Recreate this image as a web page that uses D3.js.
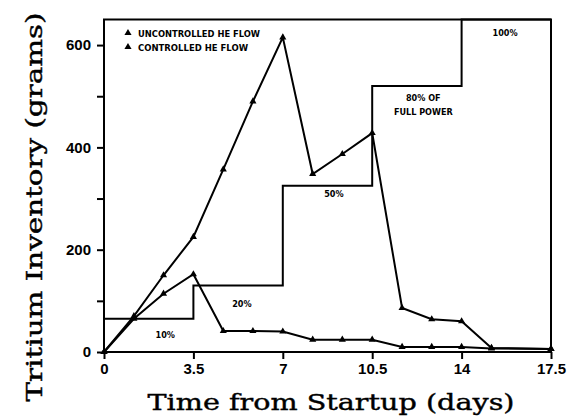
<!DOCTYPE html>
<html>
<head>
<meta charset="utf-8">
<script src="https://cdn.jsdelivr.net/npm/d3@7"></script>
<style>
  body { margin: 0; background: #fff; }
</style>
</head>
<body>
<div id="chart"></div>
<script>
var svgWidth = 570;
var svgHeight = 418;

// time from startup (days)
var days = [0, 1.17, 2.33, 3.5, 4.67, 5.83, 7, 8.17, 9.33, 10.5, 11.67, 12.83, 14, 15.17, 17.5];
// tritium inventory (grams)
var uncontrolled = [0, 70, 150, 225, 357, 490, 615, 348, 387, 428, 86, 64, 60, 8, 6];
var controlled = [0, 65, 114, 152, 41, 41, 40, 24, 24, 24, 10, 10, 10, 7, 6];

// power ramp steps
var stepStarts = [0, 3.5, 7, 10.5, 14];
var stepEnds = [3.5, 7, 10.5, 14, 17.5];
var stepLevels = [65, 130, 325, 520, 650];
var stepLabels = [['10%'], ['20%'], ['50%'], ['80% OF', 'FULL POWER'], ['100%']];

var xTicks = [0, 3.5, 7, 10.5, 14, 17.5];
var yTicks = [0, 100, 200, 300, 400, 500, 600];
var yLabelTicks = [0, 200, 400, 600];

var seriesNames = ['UNCONTROLLED HE FLOW', 'CONTROLLED HE FLOW'];

var svg = d3.select('#chart').append('svg')
    .attr('width', svgWidth)
    .attr('height', svgHeight)
    .style('font-family', 'Liberation Sans, Arial, sans-serif');

var xScale = d3.scaleLinear().domain([0, 17.5]).range([104, 551]);
var yScale = d3.scaleLinear().domain([0, 650]).range([352, 19.5]);

// axes
var xAxis = d3.axisBottom(xScale)
    .tickValues(xTicks)
    .tickSize(7)
    .tickPadding(4)
    .tickFormat(d => d);
var yAxis = d3.axisLeft(yScale)
    .tickValues(yTicks)
    .tickSize(7)
    .tickPadding(6)
    .tickFormat(d => yLabelTicks.indexOf(d) >= 0 ? d : '');

var gx = svg.append('g')
    .attr('transform', `translate(0, ${yScale(0)})`)
    .call(xAxis);
var gy = svg.append('g')
    .attr('transform', `translate(${xScale(0)}, 0)`)
    .call(yAxis);

[gx, gy].forEach(function(g) {
    g.select('.domain').remove();
    g.selectAll('.tick line').attr('stroke', '#000').attr('stroke-width', 2);
    g.selectAll('.tick text')
        .attr('fill', '#000')
        .attr('font-size', 15)
        .attr('font-weight', 'bold');
});

// frame
svg.append('rect')
    .attr('x', xScale(0))
    .attr('y', yScale(650))
    .attr('width', xScale(17.5) - xScale(0))
    .attr('height', yScale(0) - yScale(650))
    .attr('fill', 'none')
    .attr('stroke', '#000')
    .attr('stroke-width', 2);

// power step line
var stepPts = [[0, 0]];
stepLevels.forEach(function(v, i) {
    stepPts.push([stepStarts[i], v]);
    stepPts.push([stepEnds[i], v]);
});
svg.append('path')
    .attr('d', d3.line().x(d => xScale(d[0])).y(d => yScale(d[1]))(stepPts))
    .attr('fill', 'none')
    .attr('stroke', '#000')
    .attr('stroke-width', 2);

// step labels (placed in data units)
var labelPos = [[2.4, 34], [5.4, 95], [9.0, 310], [12.5, 497, 470], [15.7, 625]];
stepLabels.forEach(function(lines, i) {
    lines.forEach(function(t, j) {
        svg.append('text')
            .attr('x', xScale(labelPos[i][0]))
            .attr('y', yScale(j === 0 ? labelPos[i][1] : labelPos[i][2]) + 3.5)
            .attr('text-anchor', 'middle')
            .attr('font-family', 'DejaVu Sans Condensed, sans-serif')
            .attr('font-weight', 'bold')
            .attr('font-size', 9)
            .text(t);
    });
});

// series
var line = d3.line()
    .x((d, i) => xScale(days[i]))
    .y(d => yScale(d));
var tri = d3.symbol().type(d3.symbolTriangle).size(22);

[uncontrolled, controlled].forEach(function(series) {
    svg.append('path')
        .attr('d', line(series))
        .attr('fill', 'none')
        .attr('stroke', '#000')
        .attr('stroke-width', 2);
    svg.append('g')
        .selectAll('path')
        .data(series)
        .enter()
        .append('path')
        .attr('transform', (d, i) => `translate(${xScale(days[i])}, ${yScale(d)})`)
        .attr('d', tri)
        .attr('fill', '#000');
});

// legend
var legend = svg.append('g');
seriesNames.forEach(function(name, i) {
    var ly = 33 + i * 14;
    legend.append('path')
        .attr('transform', `translate(128, ${ly})`)
        .attr('d', tri)
        .attr('fill', '#000');
    legend.append('text')
        .attr('x', 138)
        .attr('y', ly + 3.5)
        .attr('font-family', 'DejaVu Sans Condensed, sans-serif')
        .attr('font-weight', 'bold')
        .attr('font-size', 9)
        .attr('textLength', i === 0 ? 122 : 110)
        .attr('lengthAdjust', 'spacingAndGlyphs')
        .text(name);
});

// axis titles
svg.append('text')
    .attr('x', 331)
    .attr('y', 410)
    .attr('text-anchor', 'middle')
    .attr('font-family', 'DejaVu Serif, serif')
    .attr('font-size', 22)
    .attr('stroke', '#000')
    .attr('stroke-width', 0.4)
    .attr('textLength', 367)
    .attr('lengthAdjust', 'spacingAndGlyphs')
    .text('Time from Startup (days)');

svg.append('text')
    .attr('transform', 'rotate(-90)')
    .attr('x', -207)
    .attr('y', 42)
    .attr('text-anchor', 'middle')
    .attr('font-family', 'DejaVu Serif, serif')
    .attr('font-size', 22)
    .attr('stroke', '#000')
    .attr('stroke-width', 0.4)
    .attr('textLength', 389)
    .attr('lengthAdjust', 'spacingAndGlyphs')
    .text('Tritium Inventory (grams)');
</script>
</body>
</html>
